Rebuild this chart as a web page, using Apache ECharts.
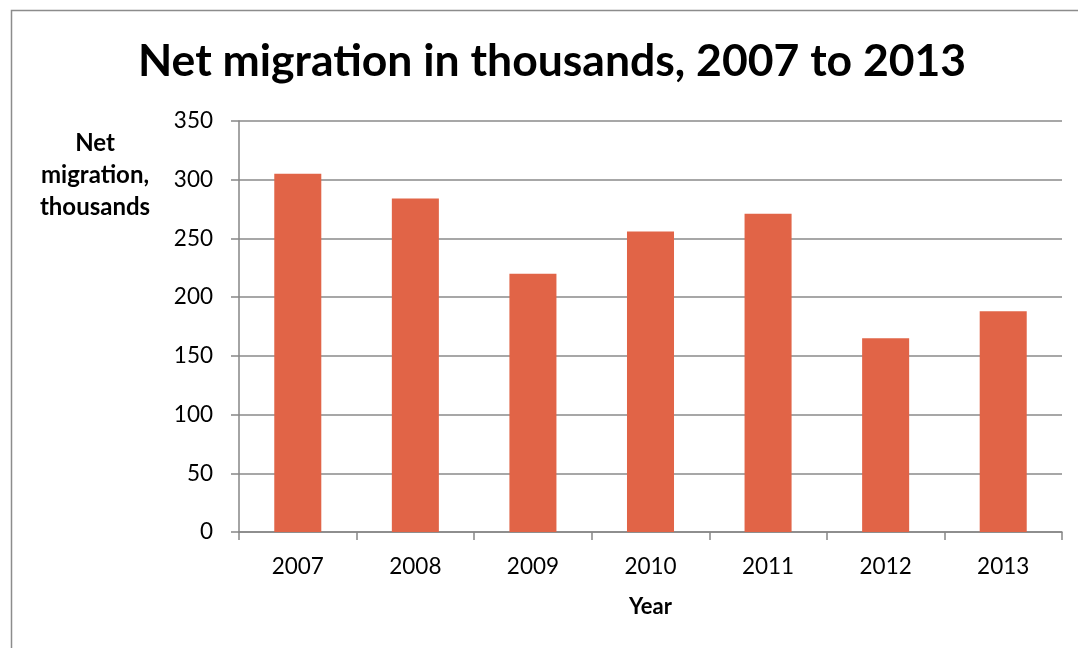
<!DOCTYPE html>
<html>
<head>
<meta charset="utf-8">
<script src="https://cdn.jsdelivr.net/npm/echarts@6/dist/echarts.min.js"></script>
<style>
html,body{margin:0;padding:0;background:#fff;}
#chart{width:1078px;height:648px;}
</style>
</head>
<body>
<div id="chart"></div>
<script>
const categories = ['2007','2008','2009','2010','2011','2012','2013'];
const netMigration = [305, 284, 220, 256, 271, 165, 188];
const yTicks = {min: 0, max: 350, interval: 50};
const titleText = 'Net migration in thousands, 2007 to 2013';
const yAxisTitle = 'Net\nmigration,\nthousands';
const xAxisTitle = 'Year';

const chart = echarts.init(document.getElementById('chart'), null, {renderer: 'canvas'});
const FONT = 'Lato';
chart.setOption({
  animation: false,
  backgroundColor: '#fff',
  title: {
    text: titleText,
    left: 138,
    top: 39,
    padding: 0,
    textStyle: {fontFamily: FONT, fontWeight: 'bold', fontSize: 44.5, color: '#000'}
  },
  graphic: [
    {type: 'rect', left: 9, top: 8, shape: {x: 0, y: 0, width: 1200, height: 800},
     style: {fill: 'none', stroke: '#8c8c8c', lineWidth: 1.5}, silent: true, z: -1},
    {type: 'text', x: 95, y: 127,
     style: {text: yAxisTitle, font: 'bold 24px ' + FONT, fill: '#000', textAlign: 'center', textVerticalAlign: 'top', lineHeight: 32}}
  ],
  grid: {left: 239, right: 16, top: 121, bottom: 116, containLabel: false},
  xAxis: {
    type: 'category',
    data: categories,
    name: xAxisTitle,
    nameLocation: 'middle',
    nameGap: 64,
    nameTextStyle: {fontFamily: FONT, fontWeight: 'bold', fontSize: 22, color: '#000'},
    axisLine: {show: true, lineStyle: {color: '#868686', width: 1.5}},
    axisTick: {show: true, alignWithLabel: false, length: 8, lineStyle: {color: '#868686', width: 1.5}},
    axisLabel: {fontFamily: FONT, fontSize: 22.5, color: '#000', margin: 23},
    splitLine: {show: false}
  },
  yAxis: {
    type: 'value',
    min: yTicks.min, max: yTicks.max, interval: yTicks.interval,
    axisLine: {show: true, lineStyle: {color: '#868686', width: 1.5}},
    axisTick: {show: true, length: 8, lineStyle: {color: '#868686', width: 1.5}},
    axisLabel: {fontFamily: FONT, fontSize: 22.5, color: '#000', margin: 26},
    splitLine: {show: true, lineStyle: {color: '#8a8a8a', width: 1.5}}
  },
  series: [{
    type: 'bar',
    data: netMigration,
    barWidth: '40%',
    itemStyle: {color: '#E16447'}
  }]
});
</script>
</body>
</html>
